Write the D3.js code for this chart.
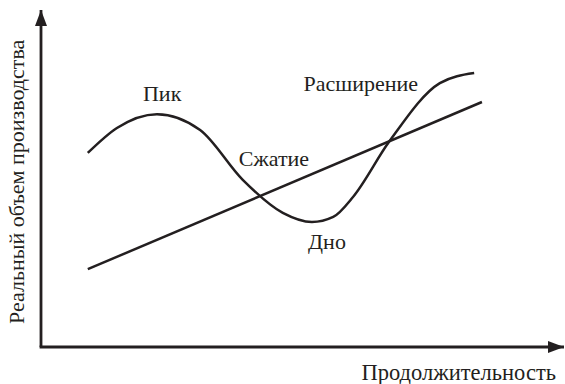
<!DOCTYPE html>
<html>
<head>
<meta charset="utf-8">
<script src="https://cdn.jsdelivr.net/npm/d3@7"></script>
</head>
<body style="margin:0">
<script>
// business cycle curve (time, output)
var cycleX = [9.0, 14.6, 22.3, 30.6, 38.8, 46.5, 52.1, 56.2, 60.0, 66.9, 76.7, 83.3];
var cycleY = [57.6, 65.0, 69.1, 64.4, 49.6, 39.8, 37.1, 38.6, 44.5, 60.8, 78.3, 81.3];

// long run trend
var trendX = [9.0, 84.8];
var trendY = [23.1, 72.7];

// phase labels
var phaseNames = ["Пик", "Сжатие", "Расширение", "Дно"];
var phaseX = [23.3, 44.8, 61.5, 55.0];
var phaseY = [73.0, 53.7, 76.0, 29.1];

var xTitle = "Продолжительность";
var yTitle = "Реальный объем производства";

var ink = "#231f20";

var svg = d3.select("body")
  .append("svg")
    .attr("width", 565)
    .attr("height", 384);

var x = d3.scaleLinear().domain([0, 100]).range([41, 561]);
var y = d3.scaleLinear().domain([0, 100]).range([347, 10]);

// arrow head
svg.append("defs").append("marker")
    .attr("id", "arrow")
    .attr("viewBox", "0 0 16 12")
    .attr("refX", 16)
    .attr("refY", 6)
    .attr("markerWidth", 16)
    .attr("markerHeight", 12)
    .attr("markerUnits", "userSpaceOnUse")
    .attr("orient", "auto")
  .append("path")
    .attr("d", "M0,0 L16,6 L0,12 z")
    .attr("fill", ink);

// axes
svg.append("line")
    .attr("x1", x(0)).attr("y1", y(0))
    .attr("x2", x(0)).attr("y2", y(100))
    .attr("stroke", ink).attr("stroke-width", 2.8)
    .attr("marker-end", "url(#arrow)");
svg.append("line")
    .attr("x1", x(0) - 1.4).attr("y1", y(0))
    .attr("x2", x(100) + 3).attr("y2", y(0))
    .attr("stroke", ink).attr("stroke-width", 2.8)
    .attr("marker-end", "url(#arrow)");

// trend
var trend = trendX.map(function(d, i) { return [d, trendY[i]]; });
svg.append("path")
    .datum(trend)
    .attr("fill", "none")
    .attr("stroke", ink)
    .attr("stroke-width", 2.5)
    .attr("d", d3.line()
      .x(function(d) { return x(d[0]); })
      .y(function(d) { return y(d[1]); }));

// cycle
var cycle = cycleX.map(function(d, i) { return [d, cycleY[i]]; });
svg.append("path")
    .datum(cycle)
    .attr("fill", "none")
    .attr("stroke", ink)
    .attr("stroke-width", 2.5)
    .attr("d", d3.line()
      .curve(d3.curveMonotoneX)
      .x(function(d) { return x(d[0]); })
      .y(function(d) { return y(d[1]); }));

// texts
var labels = svg.append("g").attr("fill", ink);

labels.selectAll("text")
  .data(phaseNames)
  .enter().append("text")
    .attr("x", function(d, i) { return x(phaseX[i]); })
    .attr("y", function(d, i) { return y(phaseY[i]); })
    .attr("text-anchor", "middle")
    .style("font-family", "'Liberation Serif'")
    .style("font-size", "22px")
    .text(function(d) { return d; });

labels.append("text")
    .attr("x", 556)
    .attr("y", 380)
    .attr("text-anchor", "end")
    .style("font-family", "'Liberation Serif'")
    .style("font-size", "22.5px")
    .text(xTitle);

labels.append("text")
    .attr("transform", "translate(24," + y(49) + ") rotate(-90)")
    .attr("text-anchor", "middle")
    .style("font-family", "'Liberation Serif'")
    .style("font-size", "22px")
    .text(yTitle);
</script>
</body>
</html>
